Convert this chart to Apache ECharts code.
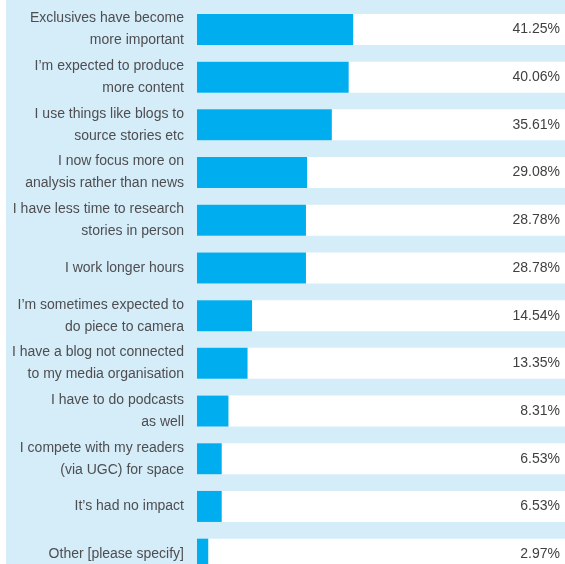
<!DOCTYPE html>
<html>
<head>
<meta charset="utf-8">
<script src="https://cdn.jsdelivr.net/npm/echarts@6/dist/echarts.min.js"></script>
<style>
  html, body { margin: 0; padding: 0; background: #ffffff; overflow: hidden; width: 565px; height: 564px; }
  /* the last row runs past the bottom edge of the page, so the chart is taller than the view */
  #chart { position: absolute; left: 6px; top: 0; width: 559px; height: 578px; }
</style>
</head>
<body>
<div id="chart"></div>
<script>
// Survey answers: how the job has changed (share of respondents, %)
const categories = [
  'Exclusives have become\nmore important',
  'I’m expected to produce\nmore content',
  'I use things like blogs to\nsource stories etc',
  'I now focus more on\nanalysis rather than news',
  'I have less time to research\nstories in person',
  'I work longer hours',
  'I’m sometimes expected to\ndo piece to camera',
  'I have a blog not connected\nto my media organisation',
  'I have to do podcasts\nas well',
  'I compete with my readers\n(via UGC) for space',
  'It’s had no impact',
  'Other [please specify]'
];
const percentages = [41.25, 40.06, 35.61, 29.08, 28.78, 28.78, 14.54, 13.35, 8.31, 6.53, 6.53, 2.97];

const chart = echarts.init(document.getElementById('chart'), null, { renderer: 'canvas' });
const FONT = '"Liberation Sans", Arial, sans-serif';

chart.setOption({
  backgroundColor: '#d5ecf9',
  animation: false,
  grid: { left: 191, right: 0, top: 5.6, bottom: 0, containLabel: false },
  xAxis: {
    type: 'value', min: 0, max: 97.2,
    show: false
  },
  yAxis: {
    type: 'category',
    data: categories,
    inverse: true,
    axisLine: { show: false },
    axisTick: { show: false },
    splitLine: { show: false },
    axisLabel: {
      margin: 13,
      color: '#4e4e50',
      fontFamily: FONT,
      fontSize: 14,
      lineHeight: 22,
      align: 'right'
    }
  },
  series: [{
    type: 'bar',
    data: percentages,
    barWidth: 31,
    itemStyle: { color: '#00aeef' },
    showBackground: true,
    backgroundStyle: { color: '#ffffff' },
    label: {
      show: true,
      position: 'insideLeft',
      color: '#404042',
      fontFamily: FONT,
      fontSize: 14,
      formatter: p => p.value.toFixed(2) + '%'
    },
    // value labels sit right-aligned at the right edge of each row
    labelLayout: p => ({
      x: 554,
      y: p.rect.y + p.rect.height / 2,
      align: 'right',
      verticalAlign: 'middle'
    })
  }]
});
</script>
</body>
</html>
